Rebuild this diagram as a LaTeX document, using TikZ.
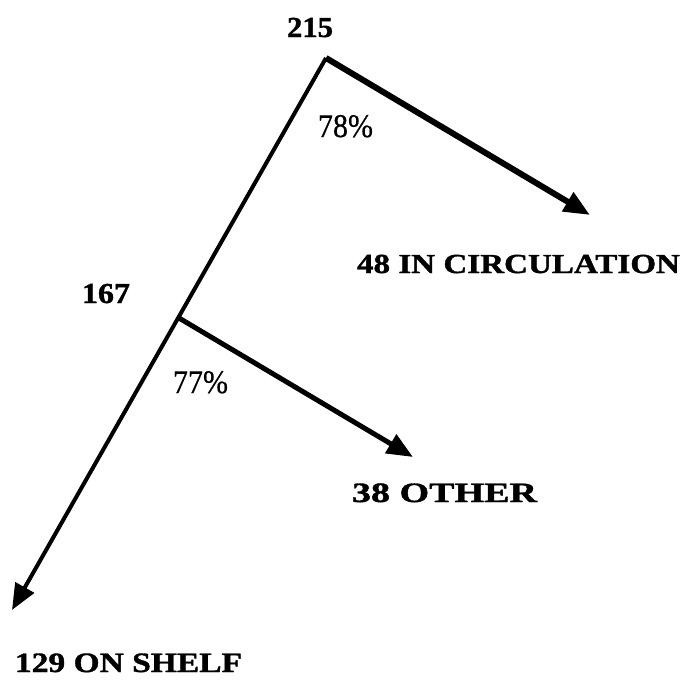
\documentclass[tikz,border=0pt]{standalone}
\usepackage{fontspec}
\setmainfont{Liberation Serif}
\newfontfamily\heavy[FakeBold=1.2]{Liberation Serif Bold}
\newfontfamily\pct[FakeBold=0.6]{Liberation Serif}
\usetikzlibrary{arrows.meta}
\newcommand{\fitw}[3]{\resizebox{#1}{\height}{\fontsize{#2}{#2}\selectfont #3}}
\tikzset{
  lbl/.style={anchor=base west, inner sep=0pt, outer sep=0pt},
  flow/.style={line width=#1, -{Triangle[length=26pt,width=21pt]}}
}
\begin{document}
\begin{tikzpicture}[x=1pt,y=-1pt]
\useasboundingbox[fill=white] (0,0) rectangle (683,691);
% junctions and ends
\coordinate (top) at (326,58);
\coordinate (mid) at (179,318);
\coordinate (circ) at (590,215);
\coordinate (oth) at (413,457);
\coordinate (shelf) at (12,610);
% connectors
\draw[flow=4pt, line join=miter] (top) -- (shelf);
\draw[flow=6pt] (top) -- (circ);
\draw[flow=5pt] (mid) -- (oth);
% labels
\node[lbl] (n215) at (287,37) {\fitw{46pt}{29pt}{\heavy 215}};
\node[lbl] (p78) at (318,137) {\fitw{55pt}{33pt}{\pct 78\%}};
\node[lbl] (n167) at (82,303) {\fitw{48pt}{29pt}{\heavy 167}};
\node[lbl] (p77) at (173,393) {\fitw{55pt}{33pt}{\pct 77\%}};
\node[lbl] (tcirc) at (357,273) {\fitw{323pt}{27.5pt}{\heavy 48 IN CIRCULATION}};
\node[lbl] (toth) at (352,502) {\fitw{185pt}{28pt}{\heavy 38 OTHER}};
\node[lbl] (tshelf) at (15,672) {\fitw{227pt}{28pt}{\heavy 129 ON SHELF}};
\end{tikzpicture}
\end{document}
